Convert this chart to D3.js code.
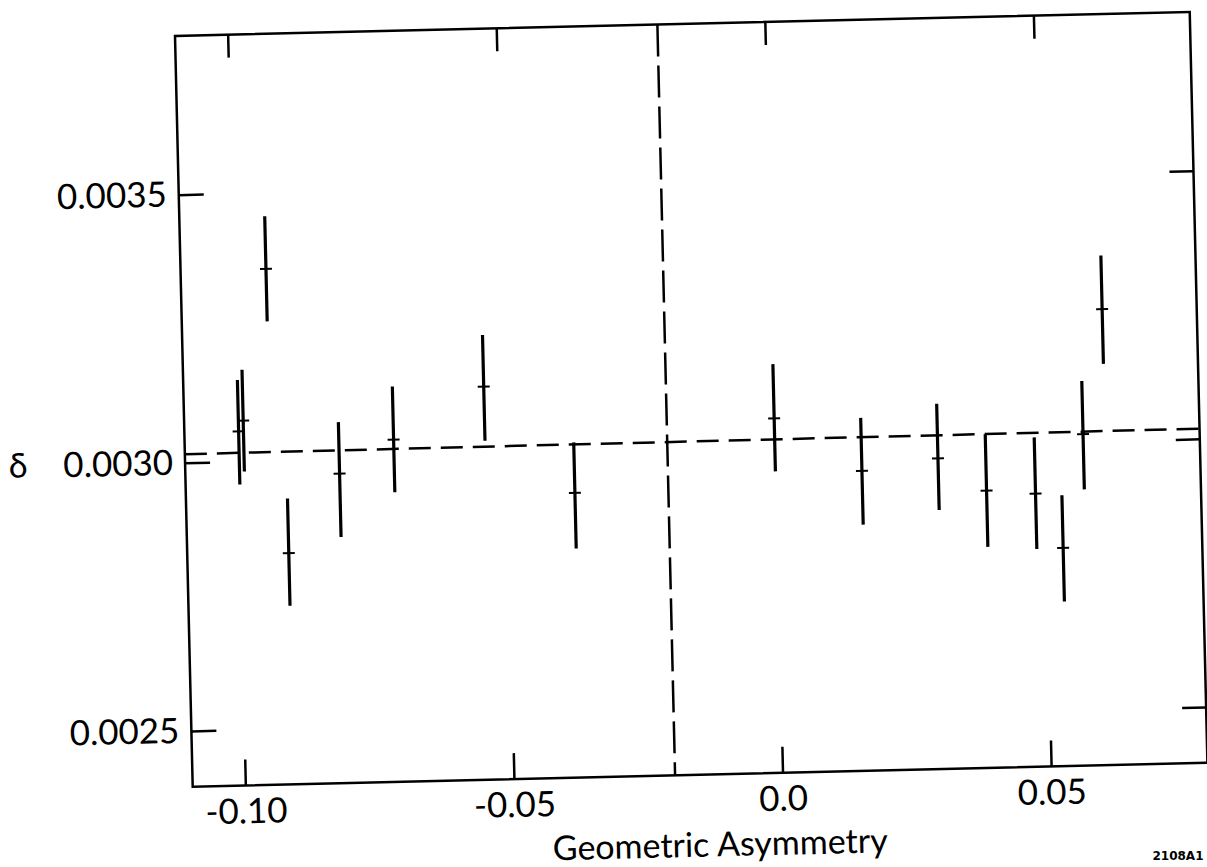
<!DOCTYPE html>
<meta charset="utf-8">
<style>
  body { margin: 0; background: #fff; }
  svg { display: block; }
  .frame { fill: none; stroke: #000; stroke-width: 2.5; }
  .axis path.domain { display: none; }
  .axis line { stroke: #000; stroke-width: 2.5; }
  .axis text { font-family: Lato, "DejaVu Sans", sans-serif; font-size: 35px; fill: #000; }
  .bar { stroke: #000; stroke-width: 3.2; }
  .mark { stroke: #000; stroke-width: 2; }
  .fit { fill: none; stroke: #000; stroke-width: 2.5; stroke-dasharray: 22 10; }
  .cut { fill: none; stroke: #000; stroke-width: 2.5; stroke-dasharray: 32 9; }
  .label { font-family: Lato, "DejaVu Sans", sans-serif; font-size: 34px; fill: #000; }
  .stamp { font-family: "DejaVu Sans", sans-serif; font-weight: bold; font-size: 12px; fill: #000; }
</style>
<body>
<div id="chart"></div>
<script src="https://d3js.org/d3.v7.min.js"></script>
<script>
// measured points: geometric asymmetry vs delta, with upper / lower error
var asym    = [-0.0997, -0.0988, -0.0939, -0.0909, -0.0811, -0.0709, -0.0539, -0.0374,
               0.0000, 0.0161, 0.0303, 0.0392, 0.0483, 0.0532, 0.0574, 0.0615];
var delta   = [0.003056, 0.003076, 0.003358, 0.002827, 0.002973, 0.003034, 0.003129, 0.002927,
               0.003057, 0.002955, 0.002975, 0.002913, 0.002905, 0.002803, 0.003014, 0.003246];
var errUp   = [0.000096, 0.000095, 0.000098, 0.000102, 0.000096, 0.000099, 0.000096, 0.000094,
               0.000101, 0.000099, 0.000102, 0.000105, 0.000105, 0.000098, 0.000099, 0.000100];
var errDown = [0.000099, 0.000095, 0.000098, 0.000098, 0.000118, 0.000098, 0.000101, 0.000104,
               0.000099, 0.000100, 0.000096, 0.000105, 0.000103, 0.000100, 0.000103, 0.000102];

var xTicks = [-0.10, -0.05, 0.0, 0.05];
var xTickLabels = ["-0.10", "-0.05", "0.0", "0.05"];
var yTicks = [0.0025, 0.0030, 0.0035];
var yTickLabels = ["0.0025", "0.0030", "0.0035"];

// dashed fitted line and dashed vertical cut
var fitX = [-0.1098, 0.0791];
var fitY = [0.003016, 0.003019];
var cutX = -0.020;

var width = 1207, height = 867;
var w = 1015, h = 751;   // plot frame
var tilt = -1.35;        // the scanned figure is slightly rotated

var x = d3.scaleLinear().domain([-0.1098, 0.0791]).range([0, w]);
var y = d3.scaleLinear().domain([0.002396, 0.003796]).range([h, 0]);

var svg = d3.select("#chart").append("svg")
    .attr("width", width)
    .attr("height", height);

var g = svg.append("g")
    .attr("transform", "translate(192.7,786.7) rotate(" + tilt + ") translate(0," + (-h) + ")");

g.append("rect")
    .attr("class", "frame")
    .attr("width", w)
    .attr("height", h);

g.append("g")
    .attr("class", "axis")
    .attr("transform", "translate(0," + h + ")")
    .call(d3.axisBottom(x).tickValues(xTicks).tickSize(-26).tickPadding(13)
      .tickFormat(function(d, i) { return xTickLabels[i]; }));

g.append("g")
    .attr("class", "axis")
    .call(d3.axisTop(x).tickValues(xTicks).tickSize(-23).tickFormat(""));

g.append("g")
    .attr("class", "axis")
    .call(d3.axisLeft(y).tickValues(yTicks).tickSize(-25).tickPadding(12)
      .tickFormat(function(d, i) { return yTickLabels[i]; }));

g.append("g")
    .attr("class", "axis")
    .attr("transform", "translate(" + w + ",0)")
    .call(d3.axisRight(y).tickValues(yTicks).tickSize(-24).tickFormat(""));

// dashed lines
g.append("line")
    .attr("class", "fit")
    .attr("x1", x(fitX[0])).attr("y1", y(fitY[0]))
    .attr("x2", x(fitX[1])).attr("y2", y(fitY[1]));

g.append("line")
    .attr("class", "cut")
    .attr("x1", x(cutX)).attr("y1", 0)
    .attr("x2", x(cutX)).attr("y2", h);

var pts = g.append("g").selectAll("g")
    .data(asym.map(function(d, i) { return i; }))
  .enter().append("g");

pts.append("line")
    .attr("class", "bar")
    .attr("x1", function(i) { return x(asym[i]); })
    .attr("x2", function(i) { return x(asym[i]); })
    .attr("y1", function(i) { return y(delta[i] + errUp[i]); })
    .attr("y2", function(i) { return y(delta[i] - errDown[i]); });

pts.append("line")
    .attr("class", "mark")
    .attr("x1", function(i) { return x(asym[i]) - 6; })
    .attr("x2", function(i) { return x(asym[i]) + 6; })
    .attr("y1", function(i) { return y(delta[i]); })
    .attr("y2", function(i) { return y(delta[i]); });

// axis titles
g.append("text")
    .attr("class", "label")
    .attr("x", -167)
    .attr("y", y(0.0030))
    .attr("dy", "0.32em")
    .attr("text-anchor", "middle")
    .text("δ");

g.append("text")
    .attr("class", "label")
    .attr("x", 526)
    .attr("y", h + 82)
    .attr("text-anchor", "middle")
    .text("Geometric  Asymmetry");

svg.append("text")
    .attr("class", "stamp")
    .attr("x", 1178)
    .attr("y", 860)
    .attr("text-anchor", "middle")
    .text("2108A1");
</script>
</body>
</html>
